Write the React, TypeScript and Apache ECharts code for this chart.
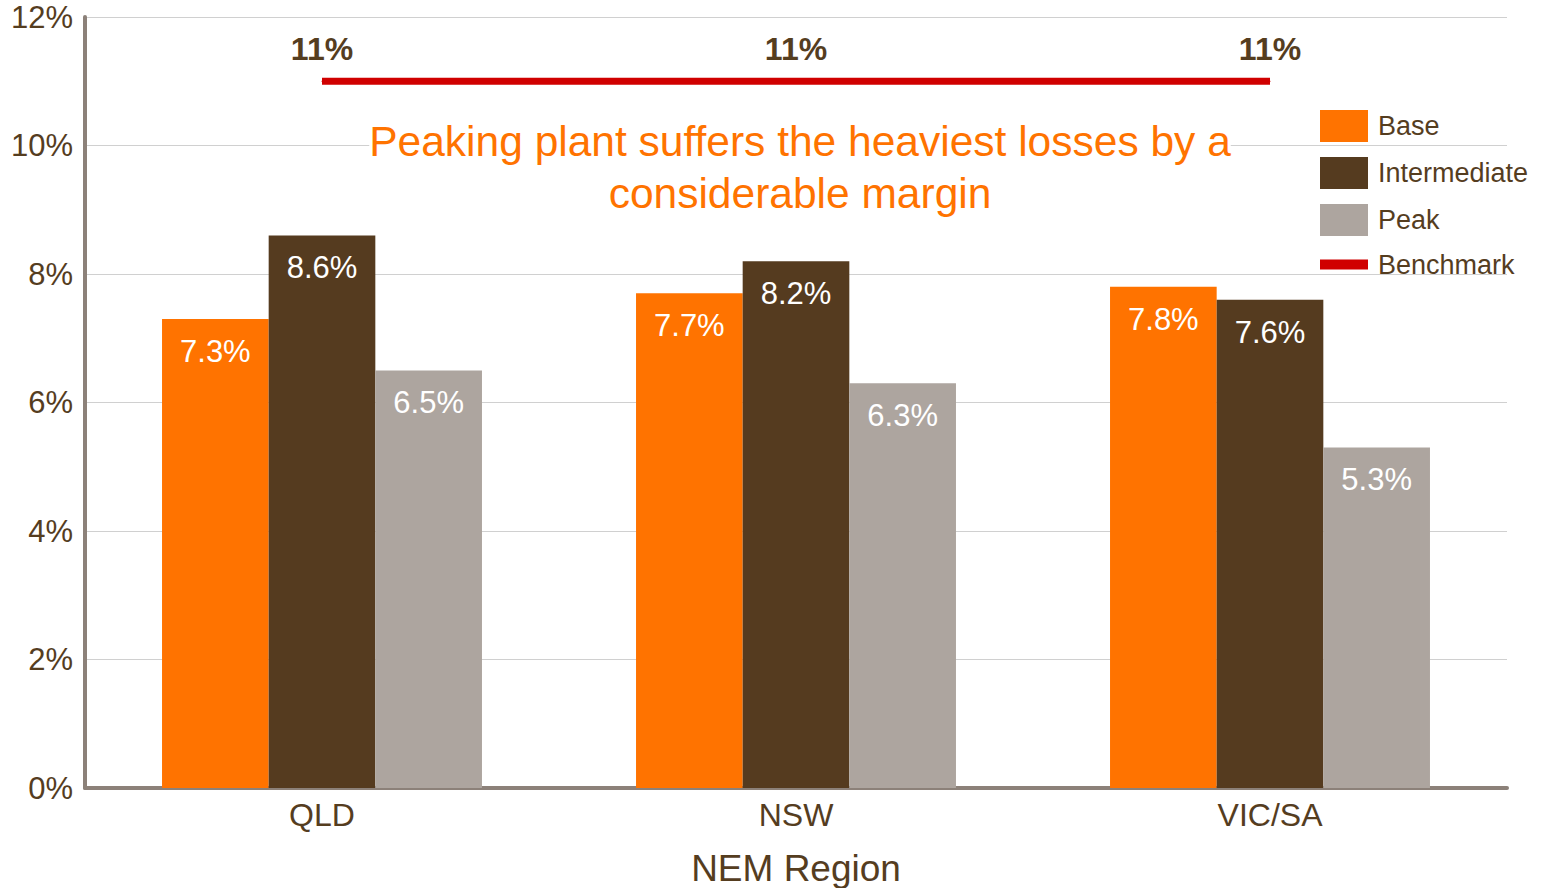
import React, { useEffect, useRef } from "react";
import * as echarts from "echarts";

const categories = ["QLD", "NSW", "VIC/SA"];
const baseValues = [7.3, 7.7, 7.8];
const intermediateValues = [8.6, 8.2, 7.6];
const peakValues = [6.5, 6.3, 5.3];
const benchmarkValues = [11, 11, 11];
const seriesNames = ["Base", "Intermediate", "Peak", "Benchmark"];
const annotation = "Peaking plant suffers the heaviest losses by a\nconsiderable margin";

const BROWN_TEXT = "#553d1f";
const FONT = "Arial, 'Liberation Sans', sans-serif";

export default function App() {
  const ref = useRef<HTMLDivElement>(null);
  useEffect(() => {
    if (!ref.current) return;
    const chart = echarts.init(ref.current, undefined, { renderer: "svg" });
    const barLabel = {
      show: true,
      position: "insideTop",
      distance: 17,
      color: "#ffffff",
      fontSize: 31,
      fontFamily: FONT,
      formatter: (p: any) => p.value.toFixed(1) + "%",
    };
    chart.setOption({
      animation: false,
      textStyle: { fontFamily: FONT },
      grid: { left: 85, right: 35, top: 17, bottom: 100, containLabel: false, outerBoundsMode: "none" },
      legend: {
        orient: "vertical",
        left: 1315,
        top: 105,
        itemWidth: 48,
        itemHeight: 32,
        itemGap: 15,
        symbolKeepAspect: true,
        textStyle: { color: BROWN_TEXT, fontSize: 27, fontFamily: FONT, padding: [0, 0, 0, 5] },
        data: [
          { name: seriesNames[0], icon: "rect" },
          { name: seriesNames[1], icon: "rect" },
          { name: seriesNames[2], icon: "rect" },
          { name: seriesNames[3], icon: "path://M0,0H48V10H0Z" },
        ],
      },
      xAxis: {
        type: "category",
        data: categories,
        axisTick: { show: false },
        axisLine: { lineStyle: { color: "#8c8179", width: 4 } },
        axisLabel: { color: BROWN_TEXT, fontSize: 32, margin: 11, fontFamily: FONT },
        name: "NEM Region",
        nameLocation: "middle",
        nameGap: 62,
        nameTextStyle: { color: BROWN_TEXT, fontSize: 37, fontFamily: FONT },
      },
      yAxis: {
        type: "value",
        min: 0,
        max: 12,
        interval: 2,
        axisLine: { show: true, lineStyle: { color: "#8c8179", width: 4 } },
        axisTick: { show: false },
        splitLine: { lineStyle: { color: "#d0d0d0", width: 1 } },
        axisLabel: {
          color: BROWN_TEXT,
          fontSize: 31,
          margin: 12,
          fontFamily: FONT,
          padding: [8, 0, 0, 0],
          formatter: (v: number) => v + "%",
        },
      },
      series: [
        {
          name: seriesNames[0],
          type: "bar",
          data: baseValues,
          itemStyle: { color: "#ff7300" },
          barGap: "0%",
          barCategoryGap: "32.5%",
          label: barLabel,
        },
        {
          name: seriesNames[1],
          type: "bar",
          data: intermediateValues,
          itemStyle: { color: "#553b1f" },
          barGap: "0%",
          barCategoryGap: "32.5%",
          label: barLabel,
        },
        {
          name: seriesNames[2],
          type: "bar",
          data: peakValues,
          itemStyle: { color: "#ada59f" },
          barGap: "0%",
          barCategoryGap: "32.5%",
          label: barLabel,
        },
        {
          name: seriesNames[3],
          type: "line",
          data: benchmarkValues,
          symbol: "circle",
          symbolSize: 1,
          showSymbol: true,
          lineStyle: { color: "#d00000", width: 7 },
          itemStyle: { color: "#d00000" },
          label: {
            show: true,
            position: "top",
            distance: 16,
            color: BROWN_TEXT,
            fontSize: 32,
            fontWeight: "bold",
            fontFamily: FONT,
            formatter: (p: any) => p.value + "%",
          },
        },
      ],
      graphic: [
        {
          type: "text",
          x: 800,
          y: 167,
          z: 10,
          style: {
            text: annotation,
            align: "center",
            verticalAlign: "middle",
            fill: "#ff7300",
            fontSize: 42.5,
            fontFamily: FONT,
            lineHeight: 52,
            backgroundColor: "#ffffff",
          },
        },
      ],
    });
    return () => chart.dispose();
  }, []);
  return <div ref={ref} style={{ width: 1542, height: 888, position: "absolute", left: 0, top: 0 }} />;
}
